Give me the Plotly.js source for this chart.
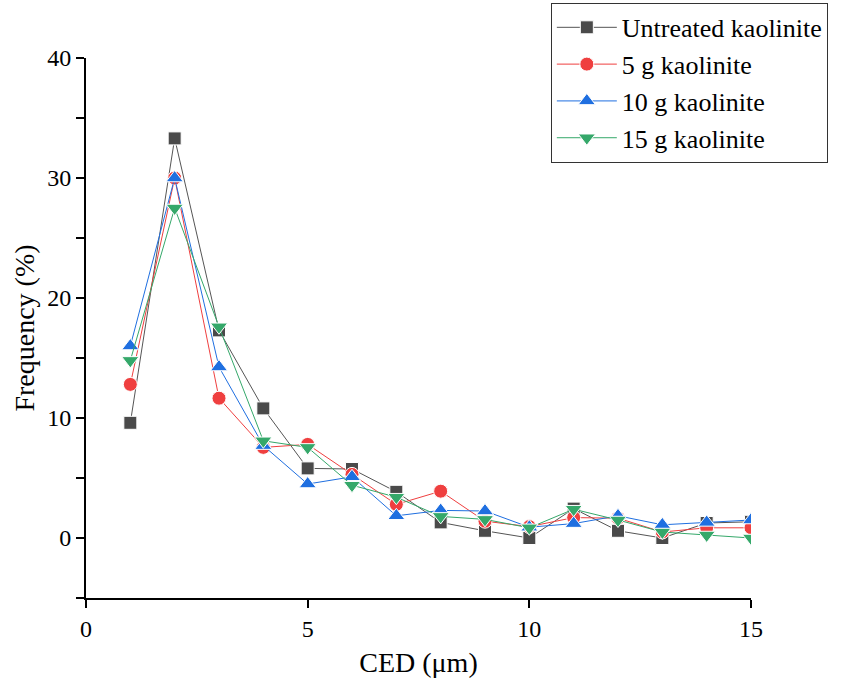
<!DOCTYPE html>
<html>
<head>
<meta charset="utf-8">
<script src="https://cdn.plot.ly/plotly-3.0.1.min.js"></script>
<style>html,body{margin:0;padding:0;background:#fff;}#chart{width:844px;height:687px;}</style>
</head>
<body>
<div id="chart"></div>
<script>
const ced = [1, 2, 3, 4, 5, 6, 7, 8, 9, 10, 11, 12, 13, 14, 15];
const untreated = [9.6, 33.3, 17.3, 10.8, 5.8, 5.75, 3.85, 1.3, 0.6, 0.0, 2.45, 0.6, 0.0, 1.25, 1.35];
const kaolinite5 = [12.8, 30.0, 11.65, 7.55, 7.8, 5.3, 2.8, 3.9, 1.4, 0.95, 1.7, 1.65, 0.5, 0.85, 0.85];
const kaolinite10 = [16.0, 30.0, 14.25, 7.7, 4.5, 5.1, 1.85, 2.3, 2.25, 0.9, 1.2, 1.85, 1.1, 1.3, 1.5];
const kaolinite15 = [14.8, 27.5, 17.6, 8.1, 7.55, 4.4, 3.4, 1.8, 1.55, 0.85, 2.4, 1.5, 0.5, 0.25, 0.0];
const seriesNames = ["Untreated kaolinite", "5 g kaolinite", "10 g kaolinite", "15 g kaolinite"];
const xTicks = [0, 5, 10, 15];
const yTicks = [0, 10, 20, 30, 40];

const font = "Liberation Serif, Times New Roman, serif";
function tr(y, name, color, lineColor, symbol, size) {
  return {
    x: ced, y: y, name: name, type: "scatter", mode: "lines+markers",
    line: {color: lineColor, width: 1},
    marker: {symbol: symbol, size: size, color: color, line: {color: "#ffffff", width: 1}}
  };
}
const data = [
  tr(untreated, seriesNames[0], "#4a4a4a", "#555555", "square", 13),
  tr(kaolinite5, seriesNames[1], "#ef3f3f", "#ef3f3f", "circle", 14),
  tr(kaolinite10, seriesNames[2], "#1f6fe0", "#1f6fe0", "triangle-up", 15),
  tr(kaolinite15, seriesNames[3], "#35a86a", "#35a86a", "triangle-down", 15)
];
const layout = {
  width: 844, height: 687,
  margin: {l: 86, r: 93, t: 58, b: 89, autoexpand: false},
  paper_bgcolor: "#fff", plot_bgcolor: "#fff",
  font: {family: font, color: "#000", size: 24},
  showlegend: true,
  legend: {
    x: 0.699, y: 1.102, xanchor: "left", yanchor: "top",
    bgcolor: "#fff", bordercolor: "#333", borderwidth: 1,
    font: {family: font, size: 26, color: "#000"},
    itemwidth: 60,
    tracegroupgap: 0
  },
  xaxis: {
    range: [0, 15], tickvals: xTicks, ticktext: xTicks.map(String),
    showgrid: false, zeroline: false, showline: true, linecolor: "#000", linewidth: 2,
    ticks: "outside", ticklen: 8, tickwidth: 1.5, tickcolor: "#000",
    tickfont: {family: font, size: 24},
    title: {text: "CED (μm)", font: {family: font, size: 28}, standoff: 12}
  },
  yaxis: {
    range: [-5, 40], tickvals: yTicks, ticktext: yTicks.map(String),
    showgrid: false, zeroline: false, showline: true, linecolor: "#000", linewidth: 2,
    ticks: "outside", ticklen: 8, tickwidth: 1.5, tickcolor: "#000",
    minor: {tickvals: [-5, 5, 15, 25, 35], ticks: "outside", ticklen: 8, tickwidth: 1.5, tickcolor: "#000"},
    tickfont: {family: font, size: 24},
    title: {text: "Frequency (%)", font: {family: font, size: 28}, standoff: 4}
  }
};
Plotly.newPlot("chart", data, layout, {displayModeBar: false, responsive: false});
</script>
</body>
</html>
